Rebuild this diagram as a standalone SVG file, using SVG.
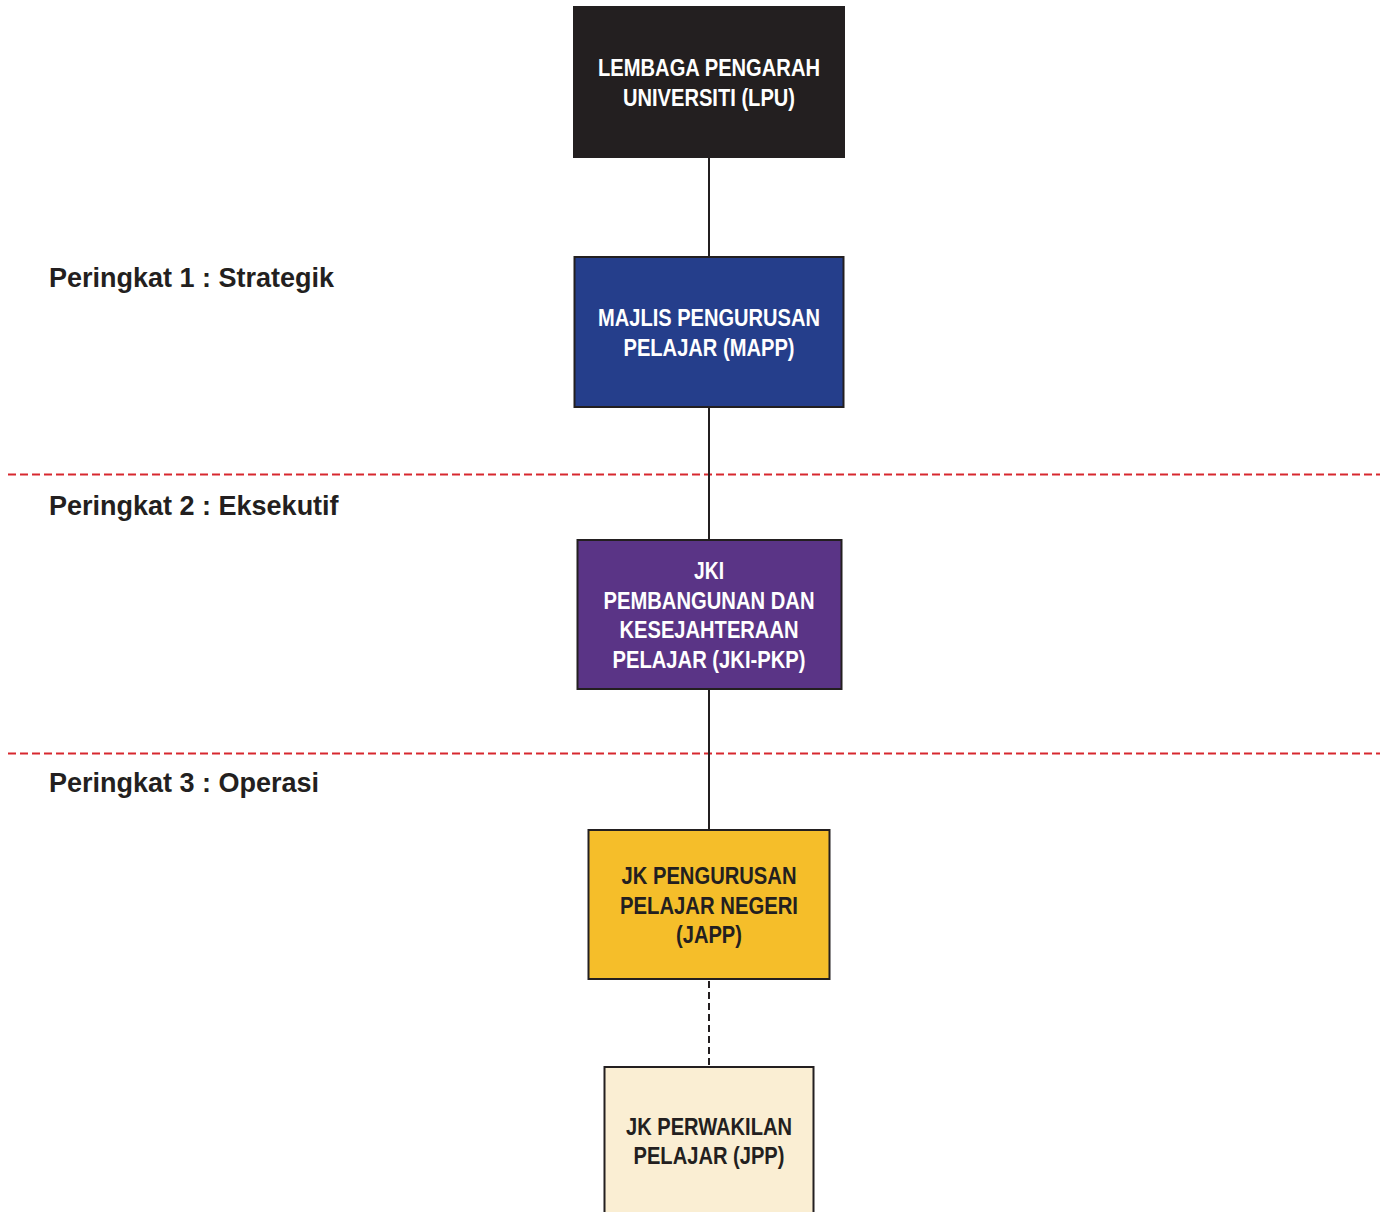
<svg xmlns="http://www.w3.org/2000/svg" width="1380" height="1212" viewBox="0 0 1380 1212">
<style>
.box{stroke:#231f20;stroke-width:2}
.nt{font-family:"Liberation Sans Narrow","Liberation Sans",Arial,sans-serif;font-weight:bold;font-size:23px;text-anchor:middle}
.w{fill:#ffffff}
.d{fill:#231f20}
.lvl{font-family:"Liberation Sans",Arial,sans-serif;font-weight:bold;font-size:27px;fill:#231f20}
.conn{stroke:#231f20;stroke-width:2;fill:none}
.sep{stroke:#d7282f;stroke-width:2.2;stroke-dasharray:8 4;fill:none}
</style>
<rect width="1380" height="1212" fill="#ffffff"/>
<g id="separators">
<line class="sep" x1="8" y1="474.5" x2="1380" y2="474.5"/>
<line class="sep" x1="8" y1="753.5" x2="1380" y2="753.5"/>
</g>
<g id="levels">
<text class="lvl" x="49" y="287">Peringkat 1 : Strategik</text>
<text class="lvl" x="49" y="515">Peringkat 2 : Eksekutif</text>
<text class="lvl" x="49" y="792">Peringkat 3 : Operasi</text>
</g>
<g id="connectors">
<line class="conn" x1="709" y1="158" x2="709" y2="256"/>
<line class="conn" x1="709" y1="407" x2="709" y2="539"/>
<line class="conn" x1="709" y1="690" x2="709" y2="829"/>
<line class="conn" x1="709" y1="981" x2="709" y2="1066" stroke-width="2.5" stroke-dasharray="7 4"/>
</g>
<g id="lpu">
<rect class="box" x="574" y="7" width="270" height="150" fill="#231f20" stroke="#6d6e71" stroke-width="1"/>
<text class="nt w" x="709" y="76" textLength="222" lengthAdjust="spacingAndGlyphs">LEMBAGA PENGARAH</text>
<text class="nt w" x="709" y="106" textLength="172" lengthAdjust="spacingAndGlyphs">UNIVERSITI (LPU)</text>
</g>
<g id="mapp">
<rect class="box" x="574.5" y="257" width="269" height="150" fill="#253e8b"/>
<text class="nt w" x="709" y="326" textLength="222" lengthAdjust="spacingAndGlyphs">MAJLIS PENGURUSAN</text>
<text class="nt w" x="709" y="356" textLength="171" lengthAdjust="spacingAndGlyphs">PELAJAR (MAPP)</text>
</g>
<g id="jki-pkp">
<rect class="box" x="577.5" y="540" width="264" height="149" fill="#5a3486"/>
<text class="nt w" x="709" y="579" textLength="30" lengthAdjust="spacingAndGlyphs">JKI</text>
<text class="nt w" x="709" y="609" textLength="211" lengthAdjust="spacingAndGlyphs">PEMBANGUNAN DAN</text>
<text class="nt w" x="709" y="638" textLength="179" lengthAdjust="spacingAndGlyphs">KESEJAHTERAAN</text>
<text class="nt w" x="709" y="668" textLength="193" lengthAdjust="spacingAndGlyphs">PELAJAR (JKI-PKP)</text>
</g>
<g id="japp">
<rect class="box" x="588.5" y="830" width="241" height="149" fill="#f5be2a"/>
<text class="nt d" x="709" y="884" textLength="175" lengthAdjust="spacingAndGlyphs">JK PENGURUSAN</text>
<text class="nt d" x="709" y="914" textLength="178" lengthAdjust="spacingAndGlyphs">PELAJAR NEGERI</text>
<text class="nt d" x="709" y="943" textLength="66" lengthAdjust="spacingAndGlyphs">(JAPP)</text>
</g>
<g id="jpp">
<rect class="box" x="604.5" y="1067" width="209" height="150" fill="#faeed3"/>
<text class="nt d" x="709" y="1135" textLength="166" lengthAdjust="spacingAndGlyphs">JK PERWAKILAN</text>
<text class="nt d" x="709" y="1164" textLength="151" lengthAdjust="spacingAndGlyphs">PELAJAR (JPP)</text>
</g>
</svg>
